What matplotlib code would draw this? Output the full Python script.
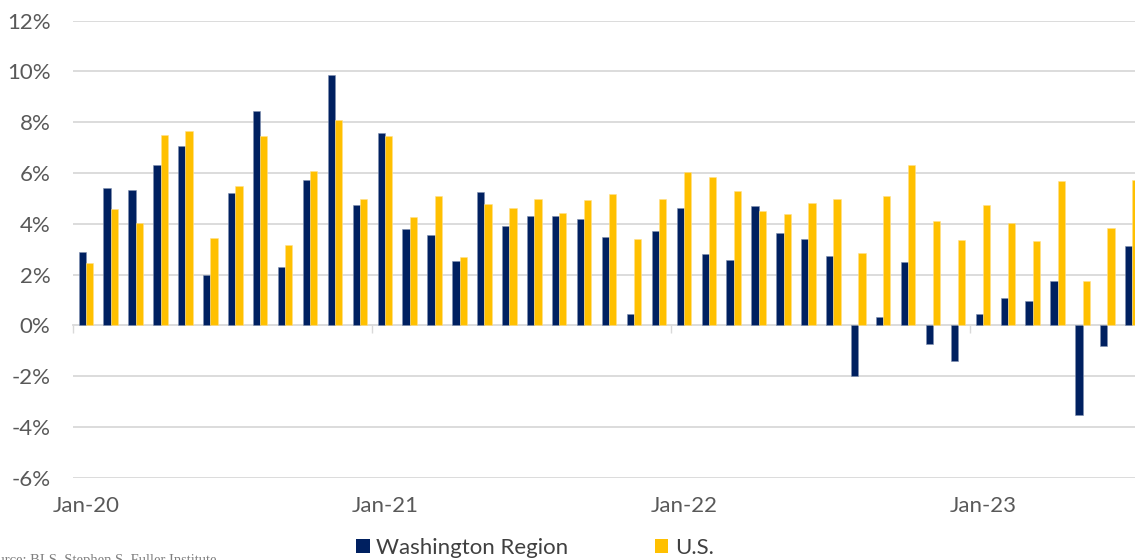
import matplotlib
matplotlib.use("Agg")
import matplotlib.pyplot as plt
import numpy as np
from matplotlib.patches import Patch

months = ["Jan-20", "Feb-20", "Mar-20", "Apr-20", "May-20", "Jun-20", "Jul-20", "Aug-20", "Sep-20", "Oct-20", "Nov-20", "Dec-20",
          "Jan-21", "Feb-21", "Mar-21", "Apr-21", "May-21", "Jun-21", "Jul-21", "Aug-21", "Sep-21", "Oct-21", "Nov-21", "Dec-21",
          "Jan-22", "Feb-22", "Mar-22", "Apr-22", "May-22", "Jun-22", "Jul-22", "Aug-22", "Sep-22", "Oct-22", "Nov-22", "Dec-22",
          "Jan-23", "Feb-23", "Mar-23", "Apr-23", "May-23", "Jun-23", "Jul-23"]

washington = [2.9, 5.4, 5.33, 6.32, 7.05, 2.0, 5.2, 8.45, 2.3, 5.73, 9.85, 4.73,
              7.58, 3.8, 3.55, 2.55, 5.24, 3.9, 4.3, 4.3, 4.19, 3.48, 0.44, 3.7,
              4.62, 2.82, 2.58, 4.69, 3.63, 3.41, 2.72, -2.0, 0.33, 2.48, -0.74, -1.39,
              0.46, 1.08, 0.96, 1.75, -3.55, -0.81, 3.14]

us = [2.44, 4.59, 4.04, 7.5, 7.65, 3.44, 5.49, 7.47, 3.17, 6.08, 8.1, 4.97,
      7.44, 4.28, 5.1, 2.7, 4.77, 4.62, 4.96, 4.42, 4.93, 5.18, 3.42, 4.97,
      6.03, 5.86, 5.3, 4.51, 4.38, 4.8, 4.98, 2.85, 5.11, 6.32, 4.12, 3.37,
      4.73, 4.02, 3.34, 5.68, 1.76, 3.83, 5.72]

yticks = [-6, -4, -2, 0, 2, 4, 6, 8, 10, 12]
ytick_labels = [f"{v}%" for v in yticks]
xlabel_months = ["Jan-20", "Jan-21", "Jan-22", "Jan-23"]

navy = "#002060"
gold = "#FFC000"
grid_c = "#D9D9D9"
text_c = "#595959"

plt.rcParams['font.family'] = ['Lato', 'DejaVu Sans']

fig = plt.figure(figsize=(11.35, 5.6), dpi=100)
W, H = 1135, 560
left_px, right_px = 73.3, 73.3 + 43 * 24.92
top_px, bottom_px = 20.7, 477.7
ax = fig.add_axes([left_px / W, 1 - bottom_px / H, (right_px - left_px) / W, (bottom_px - top_px) / H])

x = np.arange(len(months))
w = 0.29
ax.bar(x - w / 2, washington, width=w, color=navy, edgecolor="#8090b0", linewidth=0.4, zorder=3)
ax.bar(x + w / 2, us, width=w, color=gold, edgecolor="#ffe08a", linewidth=0.4, zorder=3)

ax.set_xlim(-0.5, len(months) - 0.5)
ax.set_ylim(-6, 12)
ax.set_yticks(yticks)
ax.set_yticklabels(ytick_labels)
for v in yticks:
    if v != 0:
        ax.axhline(v, color=grid_c, linewidth=1.3, zorder=1)

for s in ax.spines.values():
    s.set_visible(False)

ax.tick_params(axis='y', length=0, pad=16.5, labelsize=16, labelcolor=text_c)
pos = [months.index(m) for m in xlabel_months]
ax.set_xticks(pos)
ax.set_xticklabels(xlabel_months)
ax.tick_params(axis='x', length=0, pad=13, labelsize=16, labelcolor=text_c)

# zero axis line with category boundary ticks
sec = ax.secondary_xaxis(6 / 18)
sec.spines['bottom'].set_color(grid_c)
sec.spines['bottom'].set_linewidth(1.3)
sec.set_xticks([p - 0.5 for p in pos])
sec.set_xticklabels([])
sec.tick_params(axis='x', length=5.5, width=1.0, color=grid_c, direction='out')

handles = [Patch(facecolor=navy, edgecolor='none', label="Washington Region"),
           Patch(facecolor=gold, edgecolor='none', label="U.S.")]
fig.legend(handles=handles, loc='center', bbox_to_anchor=(535 / W, 1 - 548 / H), ncol=2,
           frameon=False, fontsize=16, handlelength=0.6, handleheight=0.6,
           handletextpad=0.3, columnspacing=3.9, labelcolor="#404040")

fig.text(217 / W, 1 - 554 / H, "Source: BLS, Stephen S. Fuller Institute", ha='right', va='top',
         fontsize=10.5, color="#7F7F7F", family=['Liberation Serif', 'DejaVu Serif'])

fig.savefig("out.png", dpi=100)
